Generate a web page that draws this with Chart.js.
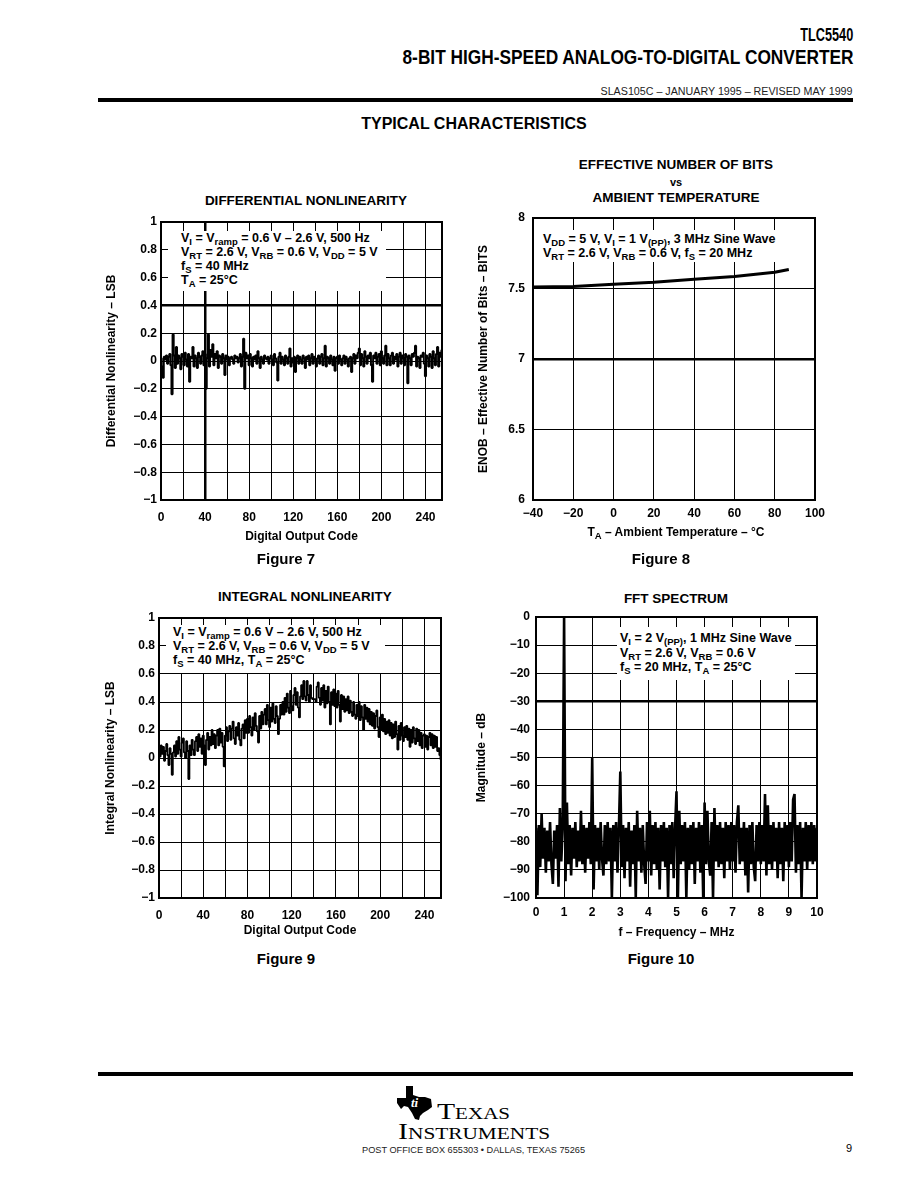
<!DOCTYPE html>
<html>
<head>
<meta charset="utf-8">
<title>TLC5540 typical characteristics</title>
<script src="https://cdn.jsdelivr.net/npm/chart.js"></script>
<style>
body { margin: 0; background: #fff; width: 919px; height: 1189px; position: relative; overflow: hidden;
       font-family: "Liberation Sans", Arial, sans-serif; color: #000; }
.t { position: absolute; white-space: nowrap; font-weight: bold; line-height: 1; }
.c { transform: translate(-50%, -50%); }
.r { transform-origin: right center; }
canvas { position: absolute; }
.rule { position: absolute; left: 98px; width: 755px; height: 4px; background: #000; }
.note { position: absolute; background: #fff; font-weight: bold; font-size: 12.5px; line-height: 14px; white-space: nowrap; }
.note sub, .t sub { font-size: 9.5px; vertical-align: -3px; line-height: 0; }
</style>
</head>
<body>

<!-- page header -->
<div class="t r" style="right:66px;top:25px;font-size:19px;" data-fit="53">TLC5540</div>
<div class="t r" style="right:66px;top:47px;font-size:20px;" data-fit="451">8-BIT HIGH-SPEED ANALOG-TO-DIGITAL CONVERTER</div>
<div class="t r" style="right:66px;top:87px;font-size:10px;font-weight:normal;color:#222;" data-fit="252">SLAS105C – JANUARY 1995 – REVISED MAY 1999</div>
<div class="rule" style="top:98px;"></div>
<div class="t c" style="left:474px;top:124px;font-size:16px;">TYPICAL CHARACTERISTICS</div>

<!-- chart titles -->
<div class="t c" style="left:306px;top:201px;font-size:13.5px;">DIFFERENTIAL NONLINEARITY</div>
<div class="t c" style="left:676px;top:165px;font-size:13.5px;">EFFECTIVE NUMBER OF BITS</div>
<div class="t c" style="left:676px;top:182px;font-size:11px;">vs</div>
<div class="t c" style="left:676px;top:198px;font-size:13.5px;">AMBIENT TEMPERATURE</div>
<div class="t c" style="left:305px;top:597px;font-size:13.5px;">INTEGRAL NONLINEARITY</div>
<div class="t c" style="left:676px;top:599px;font-size:13.5px;">FFT SPECTRUM</div>

<canvas id="dnlChart"></canvas>
<canvas id="enobChart"></canvas>
<canvas id="inlChart"></canvas>
<canvas id="fftChart"></canvas>

<!-- condition boxes inside the plots -->
<div class="note" style="left:168px;top:231px;width:205px;height:60px;padding-left:13px;">
  V<sub>I</sub> = V<sub>ramp</sub> = 0.6 V – 2.6 V, 500 Hz<br>
  V<sub>RT</sub> = 2.6 V, V<sub>RB</sub> = 0.6 V, V<sub>DD</sub> = 5 V<br>
  f<sub>S</sub> = 40 MHz<br>
  T<sub>A</sub> = 25°C
</div>
<div class="note" style="left:537px;top:230px;width:252px;height:30px;padding-left:6px;padding-top:2px;">
  V<sub>DD</sub> = 5 V, V<sub>I</sub> = 1 V<sub>(PP)</sub>, 3 MHz Sine Wave<br>
  V<sub>RT</sub> = 2.6 V, V<sub>RB</sub> = 0.6 V, f<sub>S</sub> = 20 MHz
</div>
<div class="note" style="left:166px;top:625px;width:212px;height:48px;padding-left:7px;">
  V<sub>I</sub> = V<sub>ramp</sub> = 0.6 V – 2.6 V, 500 Hz<br>
  V<sub>RT</sub> = 2.6 V, V<sub>RB</sub> = 0.6 V, V<sub>DD</sub> = 5 V<br>
  f<sub>S</sub> = 40 MHz, T<sub>A</sub> = 25°C
</div>
<div class="note" style="left:617px;top:627px;width:175px;height:49px;padding-left:3px;padding-top:4px;line-height:14.5px;">
  V<sub>I</sub> = 2 V<sub>(PP)</sub>, 1 MHz Sine Wave<br>
  V<sub>RT</sub> = 2.6 V, V<sub>RB</sub> = 0.6 V<br>
  f<sub>S</sub> = 20 MHz, T<sub>A</sub> = 25°C
</div>

<div class="t c" style="left:676px;top:532px;font-size:12px;">T<sub>A</sub> – Ambient Temperature – °C</div>

<!-- figure captions -->
<div class="t c" style="left:286px;top:558px;font-size:15px;">Figure 7</div>
<div class="t c" style="left:661px;top:558px;font-size:15px;">Figure 8</div>
<div class="t c" style="left:286px;top:958px;font-size:15px;">Figure 9</div>
<div class="t c" style="left:661px;top:958px;font-size:15px;">Figure 10</div>

<!-- footer -->
<div class="rule" style="top:1072px;"></div>
<svg style="position:absolute;left:397px;top:1086px;" width="38" height="36" viewBox="0 0 38 36">
  <polygon fill="#000" points="9,0 16,0 16,9 22,11 28,11 34,13 35,21 31,24 26,27 23,30 22,34 18,33 15,27 11,21 7,20 4,23 0,17 0,12 9,12"/>
  <text x="14" y="21" fill="#fff" font-family="Liberation Serif, serif" font-style="italic" font-weight="bold" font-size="13">ti</text>
</svg>
<div class="t" style="left:437px;top:1099px;font-family:'Liberation Serif',serif;font-weight:normal;font-size:24px;font-variant:small-caps;" data-fit="73">Texas</div>
<div class="t" style="left:398px;top:1119px;font-family:'Liberation Serif',serif;font-weight:normal;font-size:24px;font-variant:small-caps;" data-fit="152">Instruments</div>
<div class="t" style="left:362px;top:1146px;font-size:9px;font-weight:normal;color:#222;" data-fit="223">POST OFFICE BOX 655303 • DALLAS, TEXAS 75265</div>
<div class="t" style="left:846px;top:1143px;font-size:11px;font-weight:normal;">9</div>

<script>
// Figure 7: differential nonlinearity per output code (0..255), LSB
const dnlValues = [
  0.02, -0.04, -0.12, 0.03, 0.01, 0.04, -0.02, 0.03, 0.05, -0.03, -0.24, 0.19, 0.04, -0.05, 0.10, -0.02,
  0.04, 0.02, -0.06, 0.05, 0.03, -0.03, 0.06, 0.01, -0.04, 0.05, -0.15, 0.03, 0.02, 0.10, -0.04, 0.04,
  0.02, -0.05, 0.06, 0.03, -0.02, 0.04, 0.07, -0.03, 0.05, -0.20, 0.02, 0.19, -0.04, 0.08, 0.03, 0.12,
  -0.03, 0.05, 0.02, 0.07, -0.05, 0.04, 0.03, -0.02, 0.05, 0.02, -0.10, 0.04, 0.01, 0.03, -0.03, 0.02,
  0.03, 0.01, -0.02, 0.04, 0.02, 0.03, -0.01, 0.02, 0.05, -0.04, 0.03, 0.16, -0.20, 0.06, 0.02, 0.04,
  -0.03, 0.05, 0.02, -0.04, 0.03, 0.01, 0.04, -0.02, 0.07, 0.02, -0.05, 0.03, 0.01, -0.02, 0.04, 0.02,
  0.01, 0.03, -0.02, 0.02, 0.04, 0.01, -0.03, 0.05, 0.02, -0.01, -0.14, 0.03, 0.06, -0.02, 0.03, 0.01,
  -0.03, 0.04, 0.02, -0.02, 0.03, 0.09, -0.04, 0.02, -0.01, 0.03, -0.08, 0.02, 0.04, -0.02, 0.03, 0.01,
  -0.02, 0.04, 0.02, -0.05, 0.03, 0.01, 0.04, -0.03, 0.02, 0.05, -0.02, 0.03, 0.01, -0.04, 0.02, 0.04,
  -0.02, 0.03, 0.05, -0.03, 0.02, 0.11, -0.04, 0.03, 0.02, -0.02, 0.04, 0.01, -0.03, 0.03, -0.07, 0.02,
  0.03, -0.02, 0.04, 0.01, -0.03, 0.02, 0.04, -0.02, 0.03, 0.01, -0.04, 0.02, 0.03, -0.08, 0.02, 0.05,
  -0.02, 0.04, 0.02, 0.06, 0.09, -0.03, 0.05, 0.02, -0.04, 0.07, 0.03, -0.02, 0.04, 0.02, 0.06, -0.03,
  -0.15, 0.04, 0.02, 0.06, -0.02, 0.03, 0.05, -0.03, 0.07, 0.02, -0.02, 0.04, 0.11, -0.03, 0.05, 0.02,
  -0.03, 0.04, 0.06, -0.02, 0.03, 0.01, 0.05, -0.04, 0.03, 0.06, -0.02, 0.04, 0.02, -0.03, 0.05, 0.03,
  -0.16, 0.04, 0.02, -0.03, 0.05, 0.03, 0.06, 0.11, -0.04, 0.03, 0.02, -0.05, 0.04, 0.03, 0.06, -0.02,
  -0.11, 0.04, 0.02, -0.04, 0.05, 0.03, -0.05, 0.07, 0.02, -0.03, 0.05, 0.10, -0.04, 0.06, 0.03, 0.08
];

// Figure 9: integral nonlinearity per output code (0..255), LSB
const inlValues = [
  0.06, 0.01, 0.09, 0.03, 0.08, -0.02, 0.05, 0.10, 0.02, -0.05, 0.07, 0.03, -0.12, 0.04, 0.09, 0.01,
  0.12, 0.03, 0.15, 0.06, 0.01, 0.11, 0.14, 0.04, 0.00, 0.12, 0.05, -0.15, 0.09, 0.02, 0.13, 0.06,
  0.02, 0.12, 0.15, 0.05, 0.17, 0.08, 0.14, 0.03, 0.16, 0.09, -0.05, 0.13, 0.18, 0.06, 0.15, 0.09,
  0.20, 0.10, 0.17, 0.07, 0.16, 0.20, 0.09, 0.21, 0.11, 0.18, 0.08, -0.06, 0.16, 0.22, 0.12, 0.19,
  0.23, 0.13, 0.21, 0.26, 0.14, 0.10, 0.22, 0.16, 0.25, 0.13, 0.09, 0.21, 0.24, 0.14, 0.27, 0.18,
  0.28, 0.18, 0.30, 0.22, 0.16, 0.29, 0.20, 0.32, 0.23, 0.19, 0.11, 0.30, 0.21, 0.33, 0.24, 0.31,
  0.35, 0.24, 0.38, 0.27, 0.22, 0.36, 0.26, 0.39, 0.28, 0.25, 0.37, 0.30, 0.17, 0.28, 0.38, 0.31,
  0.40, 0.31, 0.43, 0.33, 0.46, 0.36, 0.32, 0.48, 0.37, 0.34, 0.45, 0.50, 0.38, 0.47, 0.36, 0.29,
  0.44, 0.52, 0.42, 0.55, 0.44, 0.41, 0.55, 0.45, 0.40, 0.52, 0.43, 0.42, 0.42, 0.42, 0.40, 0.51,
  0.54, 0.43, 0.38, 0.50, 0.41, 0.52, 0.36, 0.48, 0.39, 0.51, 0.40, 0.24, 0.47, 0.38, 0.49, 0.37,
  0.46, 0.36, 0.48, 0.38, 0.26, 0.45, 0.35, 0.44, 0.33, 0.42, 0.34, 0.44, 0.32, 0.41, 0.33, 0.30,
  0.40, 0.31, 0.28, 0.38, 0.30, 0.40, 0.27, 0.37, 0.29, 0.20, 0.38, 0.28, 0.36, 0.26, 0.35, 0.24,
  0.33, 0.23, 0.32, 0.21, 0.30, 0.34, 0.22, 0.15, 0.29, 0.20, 0.31, 0.19, 0.28, 0.17, 0.26, 0.18,
  0.27, 0.16, 0.25, 0.14, 0.24, 0.15, 0.26, 0.17, 0.06, 0.23, 0.13, 0.25, 0.16, 0.12, 0.22, 0.15,
  0.23, 0.13, 0.21, 0.08, 0.20, 0.11, 0.22, 0.14, 0.10, 0.21, 0.12, 0.20, 0.09, 0.18, 0.07, 0.16,
  0.17, 0.08, 0.16, 0.06, 0.15, 0.18, 0.09, 0.17, 0.07, 0.16, 0.08, 0.15, 0.05, 0.07, 0.02, -0.01
];

// Figure 8: ENOB vs ambient temperature
const enobTemps = [-40, -20, 0, 20, 40, 60, 80, 87];
const enobValues = [7.51, 7.515, 7.53, 7.545, 7.565, 7.585, 7.615, 7.635];

// Figure 10: FFT magnitude (dB), one value every 0.05 MHz from 0 to 10 MHz
const fftStepMHz = 0.05;
const fftValues = [
  -75, -99, -74, -89, -70, -86, -75, -91, -76, -87, -73, -88, -95, -76, -86, -74, -96, -68, -87, -75,
  0, -94, -66, -88, -74, -92, -75, -86, -73, -89, -76, -87, -69, -88, -74, -91, -75, -86, -73, -88,
  -50, -97, -74, -87, -75, -90, -73, -86, -92, -74, -88, -73, -87, -75, -100, -74, -87, -73, -91, -75,
  -55, -89, -74, -93, -75, -87, -73, -96, -76, -88, -74, -100, -69, -87, -75, -91, -74, -88, -95, -73,
  -87, -69, -92, -74, -88, -73, -90, -75, -97, -74, -87, -73, -89, -75, -100, -74, -88, -73, -93, -75,
  -62, -100, -69, -88, -74, -87, -73, -100, -75, -90, -74, -88, -73, -95, -75, -87, -73, -91, -74, -100,
  -66, -88, -69, -87, -92, -73, -100, -68, -87, -74, -89, -73, -88, -75, -93, -73, -87, -74, -90, -73,
  -87, -74, -91, -73, -67, -88, -75, -87, -73, -92, -75, -98, -74, -88, -73, -89, -94, -74, -87, -73,
  -88, -74, -87, -63, -92, -67, -88, -74, -90, -73, -87, -75, -93, -73, -88, -75, -94, -73, -87, -74,
  -89, -73, -87, -65, -63, -91, -74, -88, -73, -100, -75, -87, -73, -90, -74, -87, -73, -88, -74, -87,
  -75
];

// scale each text block to the width it has in the printed page
document.querySelectorAll('[data-fit]').forEach(el => {
    const w = el.getBoundingClientRect().width;
    el.style.transform = (el.style.transform || '') + ` scaleX(${el.dataset.fit / w})`;
    if (!el.classList.contains('r')) el.style.transformOrigin = 'left center';
});

Chart.defaults.font.family = '"Liberation Sans", Arial, sans-serif';
Chart.defaults.font.size = 12;
Chart.defaults.font.weight = 'bold';
Chart.defaults.color = '#000';

const framePlugin = {
    id: 'frame',
    afterDraw(chart) {
        const { ctx, chartArea: a } = chart;
        ctx.save();
        ctx.strokeStyle = '#000';
        ctx.lineWidth = 2;
        ctx.strokeRect(a.left, a.top, a.right - a.left, a.bottom - a.top);
        ctx.restore();
    }
};

function fmtTick(v) {
    const s = String(Math.round(v * 10) / 10);
    return s.replace('-', '\u2212');
}

function near(a, b) {
    return Math.abs(a - b) < 1e-6;
}

function zeroPad(s) {
    s.paddingLeft = 0; s.paddingRight = 0; s.paddingTop = 0; s.paddingBottom = 0;
}

// box = canvas rect on the page, area = plot area rect on the page
function plotChart(id, box, area, datasets, xOpt, yOpt) {
    const cv = document.getElementById(id);
    cv.width = box.w;
    cv.height = box.h;
    cv.style.left = box.x + 'px';
    cv.style.top = box.y + 'px';
    const yWidth = area.left - box.x;
    const xHeight = box.y + box.h - area.bottom;

    const xScale = Object.assign({
        type: 'linear',
        position: 'bottom',
        border: { display: false },
        grid: { color: '#000', lineWidth: 1, drawTicks: false },
        afterFit(s) { s.height = xHeight; zeroPad(s); }
    }, xOpt);
    const yScale = Object.assign({
        type: 'linear',
        position: 'left',
        border: { display: false },
        grid: { color: '#000', lineWidth: 1, drawTicks: false },
        afterFit(s) { s.width = yWidth; zeroPad(s); }
    }, yOpt);

    return new Chart(cv, {
        type: 'line',
        data: { datasets: datasets },
        options: {
            responsive: false,
            animation: false,
            devicePixelRatio: 1,
            layout: { padding: { left: 0, top: area.top - box.y, right: box.x + box.w - area.right, bottom: 0 } },
            plugins: { legend: { display: false }, tooltip: { enabled: false } },
            scales: { x: xScale, y: yScale }
        },
        plugins: [framePlugin]
    });
}

const lineStyle = { borderColor: '#000', pointRadius: 0, fill: false, borderJoinStyle: 'bevel' };

// Figure 7
plotChart('dnlChart',
    { x: 95, y: 212, w: 355, h: 340 },
    { left: 161, top: 222, right: 442, bottom: 500 },
    [Object.assign({ data: dnlValues.map((v, i) => ({ x: i, y: v })), borderWidth: 2, stepped: 'middle' }, lineStyle)],
    {
        min: 0, max: 255,
        grid: { color: '#000', drawTicks: false, lineWidth: c => near(c.tick.value, 40) ? 2.5 : 1 },
        ticks: { stepSize: 20, includeBounds: false, autoSkip: false, maxRotation: 0, padding: 10,
                 callback: v => (v % 40 === 0 ? String(v) : '') },
        title: { display: true, text: 'Digital Output Code', padding: { top: 0, bottom: 8.4 } }
    },
    {
        min: -1, max: 1,
        grid: { color: '#000', drawTicks: false, lineWidth: c => near(c.tick.value, 0.4) ? 2.5 : 1 },
        ticks: { stepSize: 0.2, padding: 4, callback: fmtTick },
        title: { display: true, text: 'Differential Nonlinearity – LSB', padding: { top: 9.4, bottom: 0 } }
    });

// Figure 8
plotChart('enobChart',
    { x: 470, y: 208, w: 355, h: 340 },
    { left: 533, top: 218, right: 815, bottom: 500 },
    [Object.assign({ data: enobTemps.map((t, i) => ({ x: t, y: enobValues[i] })), borderWidth: 3 }, lineStyle)],
    {
        min: -40, max: 100,
        ticks: { stepSize: 20, autoSkip: false, maxRotation: 0, padding: 6, callback: fmtTick }
    },
    {
        min: 6, max: 8,
        grid: { color: '#000', drawTicks: false, lineWidth: c => near(c.tick.value, 7) ? 2.5 : 1 },
        ticks: { stepSize: 0.5, padding: 8, callback: fmtTick },
        title: { display: true, text: 'ENOB – Effective Number of Bits – BITS', padding: { top: 6.4, bottom: 0 } }
    });

// Figure 9
plotChart('inlChart',
    { x: 95, y: 608, w: 355, h: 340 },
    { left: 159, top: 618, right: 441, bottom: 898 },
    [Object.assign({ data: inlValues.map((v, i) => ({ x: i, y: v })), borderWidth: 1.8, stepped: 'middle' }, lineStyle)],
    {
        min: 0, max: 255,
        ticks: { stepSize: 20, includeBounds: false, autoSkip: false, maxRotation: 0, padding: 10,
                 callback: v => (v % 40 === 0 ? String(v) : '') },
        title: { display: true, text: 'Digital Output Code', padding: { top: 0, bottom: 9.9 } }
    },
    {
        min: -1, max: 1,
        ticks: { stepSize: 0.2, padding: 4, callback: fmtTick },
        title: { display: true, text: 'Integral Nonlinearity – LSB', padding: { top: 8.4, bottom: 0 } }
    });

// Figure 10
plotChart('fftChart',
    { x: 470, y: 607, w: 357, h: 341 },
    { left: 536, top: 617, right: 817, bottom: 898 },
    [Object.assign({ data: fftValues.map((v, i) => ({ x: i * fftStepMHz, y: v })), borderWidth: 2.6 }, lineStyle)],
    {
        min: 0, max: 10,
        ticks: { stepSize: 1, autoSkip: false, maxRotation: 0, padding: 7.5, callback: fmtTick },
        title: { display: true, text: 'f – Frequency – MHz', padding: { top: 0, bottom: 8.4 } }
    },
    {
        min: -100, max: 0,
        grid: { color: '#000', drawTicks: false, lineWidth: c => near(c.tick.value, -30) ? 2.5 : 1 },
        ticks: { stepSize: 10, padding: 6, callback: fmtTick },
        title: { display: true, text: 'Magnitude – dB', padding: { top: 4.4, bottom: 0 } }
    });
</script>
</body>
</html>
